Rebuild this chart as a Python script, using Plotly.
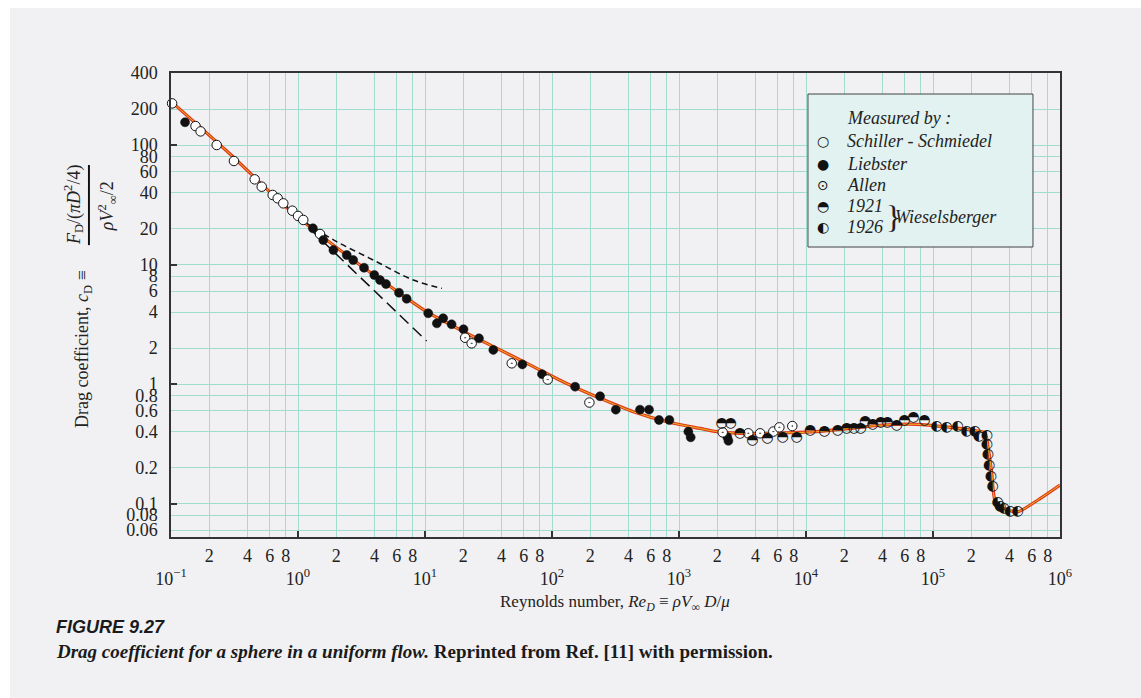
import plotly.graph_objects as go

# ---------------- data ----------------
schiller_re = [0.096, 0.102, 0.156, 0.171, 0.229, 0.313, 0.456, 0.518, 0.632, 0.692, 0.766, 0.902, 1.0, 1.10, 1.49]
schiller_cd = [238, 223, 144, 130, 100, 73.5, 51.6, 44.8, 38.2, 35.8, 32.5, 28.2, 25.5, 23.6, 18.0]

liebster_re = [0.129, 1.31, 1.58, 1.90, 2.42, 2.72, 3.31, 3.99, 4.42, 4.93, 6.24, 7.17, 10.6, 12.4, 13.9,
               16.2, 20.1, 26.6, 34.5, 58.4, 83.4, 152, 239, 318, 493, 581, 696, 840, 1184, 1236, 2400, 2450]
liebster_cd = [155, 20.1, 16.0, 13.2, 12.0, 10.9, 9.4, 8.17, 7.42, 6.87, 5.81, 5.17, 3.91, 3.22, 3.55,
               3.16, 2.87, 2.41, 1.93, 1.46, 1.21, 0.95, 0.79, 0.61, 0.61, 0.61, 0.50, 0.50, 0.40, 0.358, 0.36, 0.335]

allen_re = [20.7, 23.3, 48.2, 92.5, 197, 2208, 3514, 4350, 5533, 6170, 7800]
allen_cd = [2.44, 2.19, 1.49, 1.09, 0.70, 0.394, 0.387, 0.387, 0.40, 0.434, 0.445]

w1921_re = [2168, 2553, 3020, 3776, 4956, 6556, 8450, 10750, 13930, 17770, 20900, 23860, 26950,
            29150, 33500, 38750, 43700, 51760, 59400, 70000, 85500]
w1921_cd = [0.469, 0.469, 0.387, 0.34, 0.351, 0.358, 0.358, 0.406, 0.404, 0.412, 0.426, 0.426, 0.426,
            0.49, 0.46, 0.474, 0.474, 0.454, 0.50, 0.522, 0.50]

w1926_re = [107000, 128000, 156000, 184000, 214000, 230000, 265000, 265000, 270000, 277000, 286000,
            295000, 323000, 337000, 362000, 404000, 464000]
w1926_cd = [0.44, 0.434, 0.44, 0.404, 0.404, 0.362, 0.374, 0.309, 0.258, 0.210, 0.168,
            0.140, 0.1016, 0.0953, 0.0912, 0.0865, 0.0865]

curve_re = [0.1, 0.275, 0.918, 3.08, 6.35, 10.3, 21.3, 39, 71.3, 130.6, 239, 437, 800, 1462, 1983,
            3623, 6620, 12100, 22180, 40600, 74500, 136000, 206000, 256000, 271000, 290000, 307000,
            337000, 456000, 499000, 697000, 1000000]
curve_cd = [232, 89, 26.8, 9.9, 5.74, 4.03, 2.66, 1.93, 1.40, 1.01, 0.76, 0.586, 0.484, 0.425, 0.40,
            0.385, 0.39, 0.399, 0.426, 0.454, 0.46, 0.434, 0.41, 0.39, 0.30, 0.18, 0.107,
            0.094, 0.085, 0.088, 0.110, 0.143]

stokes_re = [0.762, 10.3]
stokes_cd = [32.7, 2.29]
oseen_re = [1.17, 2.0, 3.92, 8.09, 13.6]
oseen_cd = [22.1, 15.6, 10.9, 7.41, 6.32]

x_decades = [0.1, 1, 10, 100, 1e3, 1e4, 1e5, 1e6]
x_decade_text = ["10<sup>−1</sup>", "10<sup>0</sup>", "10<sup>1</sup>", "10<sup>2</sup>",
                 "10<sup>3</sup>", "10<sup>4</sup>", "10<sup>5</sup>", "10<sup>6</sup>"]
x_minor_mult = [2, 4, 6, 8]
y_ticks = [0.06, 0.08, 0.1, 0.2, 0.4, 0.6, 0.8, 1, 2, 4, 6, 8, 10, 20, 40, 60, 80, 100, 200, 400]
y_tick_text = ["0.06", "0.08", "0.1", "0.2", "0.4", "0.6", "0.8", "1", "2", "4", "6", "8",
               "10", "20", "40", "60", "80", "100", "200", "400"]
y_decades = [0.1, 1, 10, 100]

# ---------------- figure ----------------
SERIF = "Liberation Serif"
PLOT_BG = "#ddf0ee"
GRID = "#a2dccf"

x_grid_vals, x_grid_text = [], []
for d in x_decades[:-1]:
    x_grid_vals.append(d); x_grid_text.append("")
    for m in x_minor_mult:
        x_grid_vals.append(d * m); x_grid_text.append(str(m))
x_grid_vals.append(x_decades[-1]); x_grid_text.append("")

fig = go.Figure()

# curve (red with thin yellow core)
fig.add_trace(go.Scatter(x=curve_re, y=curve_cd, mode="lines",
                         line=dict(color="#dd3a1c", width=3.2, shape="spline", smoothing=0.8),
                         hoverinfo="skip", showlegend=False))
fig.add_trace(go.Scatter(x=curve_re, y=curve_cd, mode="lines",
                         line=dict(color="#f3c320", width=0.9, shape="spline", smoothing=0.8),
                         hoverinfo="skip", showlegend=False))
# asymptotes
fig.add_trace(go.Scatter(x=stokes_re, y=stokes_cd, mode="lines",
                         line=dict(color="#111", width=1.5, dash="12px,6px"),
                         hoverinfo="skip", showlegend=False))
fig.add_trace(go.Scatter(x=oseen_re, y=oseen_cd, mode="lines",
                         line=dict(color="#111", width=1.5, dash="6px,4px", shape="spline"),
                         hoverinfo="skip", showlegend=False))

# measurements
fig.add_trace(go.Scatter(x=schiller_re, y=schiller_cd, mode="markers", cliponaxis=False,
                         marker=dict(symbol="circle", size=9.5, color="white", line=dict(color="#111", width=1)),
                         showlegend=False))
fig.add_trace(go.Scatter(x=liebster_re, y=liebster_cd, mode="markers", cliponaxis=False,
                         marker=dict(symbol="circle", size=9, color="#111", line=dict(color="#111", width=0.5)),
                         showlegend=False))
fig.add_trace(go.Scatter(x=allen_re, y=allen_cd, mode="markers", cliponaxis=False,
                         marker=dict(symbol="circle-dot", size=9.5, color="white", line=dict(color="#111", width=1)),
                         showlegend=False))
fig.add_trace(go.Scatter(x=w1921_re, y=w1921_cd, mode="text", cliponaxis=False,
                         text=["◓"] * len(w1921_re), textposition="middle center",
                         textfont=dict(family="DejaVu Sans", size=14, color="#111"),
                         showlegend=False))
fig.add_trace(go.Scatter(x=w1926_re, y=w1926_cd, mode="text", cliponaxis=False,
                         text=["◐"] * len(w1926_re), textposition="middle center",
                         textfont=dict(family="DejaVu Sans", size=14, color="#111"),
                         showlegend=False))

# empty trace for overlay axes (decade labels and inward ticks)
fig.add_trace(go.Scatter(x=[], y=[], xaxis="x2", yaxis="y2", showlegend=False, hoverinfo="skip"))

tickfont = dict(family=SERIF, size=18, color="#222")
fig.update_layout(
    width=1141, height=698, autosize=False,
    margin=dict(l=171, r=81, t=73, b=161),
    paper_bgcolor="white", plot_bgcolor=PLOT_BG,
    font=dict(family=SERIF, color="#222"),
    xaxis=dict(type="log", range=[-1, 6], tickmode="array", tickvals=x_grid_vals, ticktext=x_grid_text,
               showgrid=True, gridcolor=GRID, gridwidth=1, ticks="", tickfont=tickfont,
               showline=True, linecolor="#333", linewidth=1.5, mirror=True, zeroline=False,
               ticklabelstandoff=2),
    yaxis=dict(type="log", range=[-1.28, 2.6025], tickmode="array", tickvals=y_ticks, ticktext=y_tick_text,
               showgrid=True, gridcolor=GRID, gridwidth=1, ticks="", tickfont=tickfont,
               showline=True, linecolor="#333", linewidth=1.5, mirror=True, zeroline=False,
               ticklabelstandoff=8),
    xaxis2=dict(type="log", range=[-1, 6], overlaying="x", anchor="y", side="bottom",
                tickmode="array", tickvals=x_decades, ticktext=x_decade_text,
                ticks="inside", ticklen=6, tickwidth=1.5, tickcolor="#333", showgrid=False,
                tickfont=tickfont, showline=False, zeroline=False, ticklabelstandoff=29),
    yaxis2=dict(type="log", range=[-1.28, 2.6025], overlaying="y", anchor="x", side="left",
                tickmode="array", tickvals=y_decades, ticks="inside", ticklen=6, tickwidth=1.5,
                tickcolor="#333", showticklabels=False, showgrid=False, showline=False, zeroline=False),
)

# page background
fig.add_shape(type="rect", xref="paper", yref="paper", x0=-0.1811, x1=1.1, y0=-0.36, y1=1.14,
              fillcolor="#f1f1f4", line=dict(width=0), layer="below")

# legend box
fig.add_shape(type="rect", xref="paper", yref="paper", x0=0.7165, x1=0.9696, y0=0.625, y1=0.9547,
              fillcolor="#e2f2f0", line=dict(color="#444", width=1))
leg_font = dict(family=SERIF, size=18, color="#222")
fig.add_annotation(x=0.7582, y=0.903, xref="paper", yref="paper", xanchor="left", yanchor="middle",
                   text="<i>Measured by :</i>", showarrow=False, font=leg_font)
leg_items = [("○", "Schiller - Schmiedel", 0.8534), ("●", "Liebster", 0.8039), ("⊙", "Allen", 0.7586),
             ("◓", "1921", 0.7134), ("◐", "1926", 0.6681)]
for sym, lab, yy in leg_items:
    fig.add_annotation(x=0.7334, y=yy, xref="paper", yref="paper", xanchor="center", yanchor="middle",
                       text=sym, showarrow=False, font=dict(family="DejaVu Sans", size=14, color="#111"))
    fig.add_annotation(x=0.7582, y=yy, xref="paper", yref="paper", xanchor="left", yanchor="middle",
                       text=f"<i>{lab}</i>", showarrow=False, font=leg_font)
fig.add_annotation(x=0.8025, y=0.6907, xref="paper", yref="paper", xanchor="left", yanchor="middle",
                   text="}", showarrow=False, font=dict(family=SERIF, size=32, color="#222"))
fig.add_annotation(x=0.8121, y=0.6907, xref="paper", yref="paper", xanchor="left", yanchor="middle",
                   text="<i>Wieselsberger</i>", showarrow=False, font=leg_font)

# y-axis title (rotated, with fraction)
ytitle_font = dict(family=SERIF, size=18, color="#222")
fig.add_annotation(x=-0.099, y=0.405, xref="paper", yref="paper", textangle=-90,
                   xanchor="center", yanchor="middle",
                   text="Drag coefficient, <i>c</i><sub>D</sub> ≡", showarrow=False, font=ytitle_font)
fig.add_annotation(x=-0.1102, y=0.7155, xref="paper", yref="paper", textangle=-90,
                   xanchor="center", yanchor="middle",
                   text="<i>F</i><sub>D</sub>/(<i>πD</i><sup>2</sup>/4)", showarrow=False, font=ytitle_font)
fig.add_annotation(x=-0.072, y=0.713, xref="paper", yref="paper", textangle=-90,
                   xanchor="center", yanchor="middle",
                   text="<i>ρV</i><sup>2</sup><sub>∞</sub>/2", showarrow=False, font=ytitle_font)
# fraction bar
fig.add_shape(type="rect", xref="paper", yref="paper", x0=-0.0934, x1=-0.0912, y0=0.629, y1=0.8017,
              fillcolor="#111", line=dict(width=0), layer="above")

# x-axis title
fig.add_annotation(x=0.4994, y=-0.1422, xref="paper", yref="paper", xanchor="center", yanchor="middle",
                   text="Reynolds number, <i>Re<sub>D</sub></i> ≡ <i>ρV</i><sub>∞</sub> <i>D</i>/<i>μ</i>",
                   showarrow=False, font=dict(family=SERIF, size=17, color="#222"))

# caption
fig.add_annotation(x=-0.1316, y=-0.194, xref="paper", yref="paper", xanchor="left", yanchor="middle",
                   text="<b><i>FIGURE 9.27</i></b>", showarrow=False,
                   font=dict(family="Liberation Sans", size=18, color="#1a1a1a"))
fig.add_annotation(x=-0.1316, y=-0.2478, xref="paper", yref="paper", xanchor="left", yanchor="middle",
                   text="<b><i>Drag coefficient for a sphere in a uniform flow.</i> Reprinted from Ref. [11] with permission.</b>",
                   showarrow=False, font=dict(family=SERIF, size=19, color="#1a1a1a"))

fig.write_html("out.html", config={"displayModeBar": False},
               post_script="document.body.style.margin='0px';")
